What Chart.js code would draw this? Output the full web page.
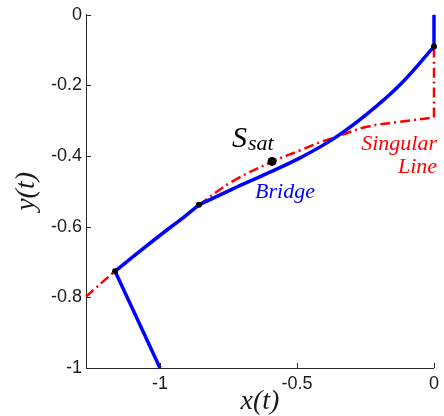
<!DOCTYPE html>
<html>
<head>
<meta charset="utf-8">
<script src="https://cdn.jsdelivr.net/npm/chart.js@4.4.1/dist/chart.umd.min.js"></script>
<style>
  html, body { margin: 0; padding: 0; background: #fff; }
</style>
</head>
<body>
<canvas id="c" width="444" height="416"></canvas>
<script>
// bridge (blue): lower arc between the two junctions
const bridgeLowX = [-1.164, -1.073, -0.976, -0.916, -0.858];
const bridgeLowY = [-0.726, -0.669, -0.610, -0.575, -0.538];
// bridge (blue): upper arc up to the top junction at x=0
const bridgeUpX = [-0.858, -0.734, -0.609, -0.489, -0.369, -0.245, -0.124, 0];
const bridgeUpY = [-0.538, -0.493, -0.449, -0.405, -0.352, -0.281, -0.198, -0.09];
// straight blue pieces
const bridgeTopX = [0, 0];
const bridgeTopY = [0, -0.09];
const bridgeDropX = [-1.164, -1.0];
const bridgeDropY = [-0.726, -1.0];

// singular line (red dash-dot)
const singLowX = [-1.27, -1.164, -1.073, -0.976, -0.916, -0.858];
const singLowY = [-0.798, -0.726, -0.669, -0.610, -0.575, -0.538];
const singUpX = [-0.858, -0.734, -0.591, -0.489, -0.416, -0.354, -0.245, -0.124, 0];
const singUpY = [-0.538, -0.471, -0.416, -0.384, -0.361, -0.345, -0.317, -0.303, -0.291];
const singVertX = [0, 0];
const singVertY = [-0.291, -0.09];

// junction points + S_sat
const junctionX = [-1.164, -0.858, 0];
const junctionY = [-0.726, -0.538, -0.09];
const ssatX = [-0.591];
const ssatY = [-0.415];

// ticks
const xTicks = [-1, -0.5, 0];
const yTicks = [-1, -0.8, -0.6, -0.4, -0.2, 0];

function pts(xs, ys) {
    return xs.map(function (x, i) { return { x: x, y: ys[i] }; });
}

var serif = '"Liberation Serif", "Times New Roman", serif';
var axisColor = '#262626';

// ticks drawn inward (matlab style) + text labels
var extras = {
    id: 'extras',
    afterDraw: function (chart) {
        var ctx = chart.ctx;
        var xs = chart.scales.x, ys = chart.scales.y;
        var area = chart.chartArea;
        ctx.save();
        ctx.strokeStyle = axisColor;
        ctx.lineWidth = 1;
        ctx.beginPath();
        xTicks.forEach(function (v) {
            var px = Math.round(xs.getPixelForValue(v)) + 0.5;
            ctx.moveTo(px, area.bottom);
            ctx.lineTo(px, area.bottom - 5);
        });
        yTicks.forEach(function (v) {
            var py = Math.round(ys.getPixelForValue(v)) + 0.5;
            ctx.moveTo(area.left, py);
            ctx.lineTo(area.left + 5, py);
        });
        ctx.stroke();

        // S_sat
        ctx.fillStyle = '#000';
        ctx.textBaseline = 'alphabetic';
        ctx.textAlign = 'left';
        ctx.font = 'italic 30px ' + serif;
        var sx = xs.getPixelForValue(-0.737), sy = ys.getPixelForValue(-0.375);
        ctx.fillText('S', sx, sy);
        var w = ctx.measureText('S').width;
        ctx.font = 'italic 22px ' + serif;
        ctx.fillText('sat', sx + w + 1, ys.getPixelForValue(-0.384));

        // Bridge
        ctx.fillStyle = '#0000ff';
        ctx.font = 'italic 22px ' + serif;
        ctx.fillText('Bridge', xs.getPixelForValue(-0.653), ys.getPixelForValue(-0.518));

        // Singular Line
        ctx.fillStyle = '#ff0000';
        ctx.textAlign = 'right';
        ctx.fillText('Singular', xs.getPixelForValue(0.011), ys.getPixelForValue(-0.384));
        ctx.fillText('Line', xs.getPixelForValue(0.011), ys.getPixelForValue(-0.448));
        ctx.restore();
    }
};

var blueLine = { borderColor: '#0000ff', borderWidth: 3.5, pointRadius: 0, showLine: true, fill: false, clip: false, tension: 0.4 };
var redLine = { borderColor: '#ff0000', borderWidth: 2.5, borderDash: [10, 4, 2, 4], pointRadius: 0, showLine: true, fill: false, clip: false, tension: 0.4 };

var chart = new Chart(document.getElementById('c'), {
    type: 'scatter',
    data: {
        datasets: [
            { data: pts(ssatX, ssatY), pointRadius: 4.5, pointBackgroundColor: '#000', pointBorderWidth: 0, showLine: false, clip: false },
            { data: pts(junctionX, junctionY), pointRadius: 3, pointBackgroundColor: '#000', pointBorderWidth: 0, showLine: false, clip: false },
            Object.assign({ data: pts(bridgeLowX, bridgeLowY) }, blueLine),
            Object.assign({ data: pts(bridgeUpX, bridgeUpY) }, blueLine),
            Object.assign({ data: pts(bridgeTopX, bridgeTopY) }, blueLine),
            Object.assign({ data: pts(bridgeDropX, bridgeDropY) }, blueLine),
            Object.assign({ data: pts(singLowX, singLowY) }, redLine),
            Object.assign({ data: pts(singUpX, singUpY) }, redLine),
            Object.assign({ data: pts(singVertX, singVertY) }, redLine)
        ]
    },
    options: {
        responsive: false,
        animation: false,
        devicePixelRatio: 1,
        layout: { padding: { top: 11, right: 10, left: 0, bottom: 0 } },
        plugins: { legend: { display: false }, tooltip: { enabled: false } },
        scales: {
            x: {
                type: 'linear',
                min: -1.27,
                max: 0,
                afterBuildTicks: function (scale) { scale.ticks = xTicks.map(function (v) { return { value: v }; }); },
                afterFit: function (scale) { scale.height = 48; },
                grid: { drawOnChartArea: false, drawTicks: false },
                border: { display: true, color: axisColor, width: 1 },
                ticks: {
                    padding: 5,
                    maxRotation: 0,
                    color: '#1a1a1a',
                    font: { family: '"Liberation Sans", Arial, sans-serif', size: 18 },
                    callback: function (v) { return String(v); }
                },
                title: {
                    display: true,
                    text: 'x(t)',
                    color: '#1a1a1a',
                    padding: { top: 0, bottom: 0 },
                    font: { family: serif, size: 28, style: 'italic', lineHeight: 1.0 }
                }
            },
            y: {
                type: 'linear',
                min: -1,
                max: 0,
                afterBuildTicks: function (scale) { scale.ticks = yTicks.map(function (v) { return { value: v }; }); },
                afterFit: function (scale) { scale.width = 86; },
                grid: { drawOnChartArea: false, drawTicks: false },
                border: { display: true, color: axisColor, width: 1 },
                ticks: {
                    padding: 4,
                    color: '#1a1a1a',
                    font: { family: '"Liberation Sans", Arial, sans-serif', size: 18 },
                    callback: function (v) { return String(v); }
                },
                title: {
                    display: true,
                    text: 'y(t)',
                    color: '#1a1a1a',
                    padding: { top: 13, bottom: 0 },
                    font: { family: serif, size: 28, style: 'italic', lineHeight: 1.0 }
                }
            }
        }
    },
    plugins: [extras]
});
</script>
</body>
</html>
